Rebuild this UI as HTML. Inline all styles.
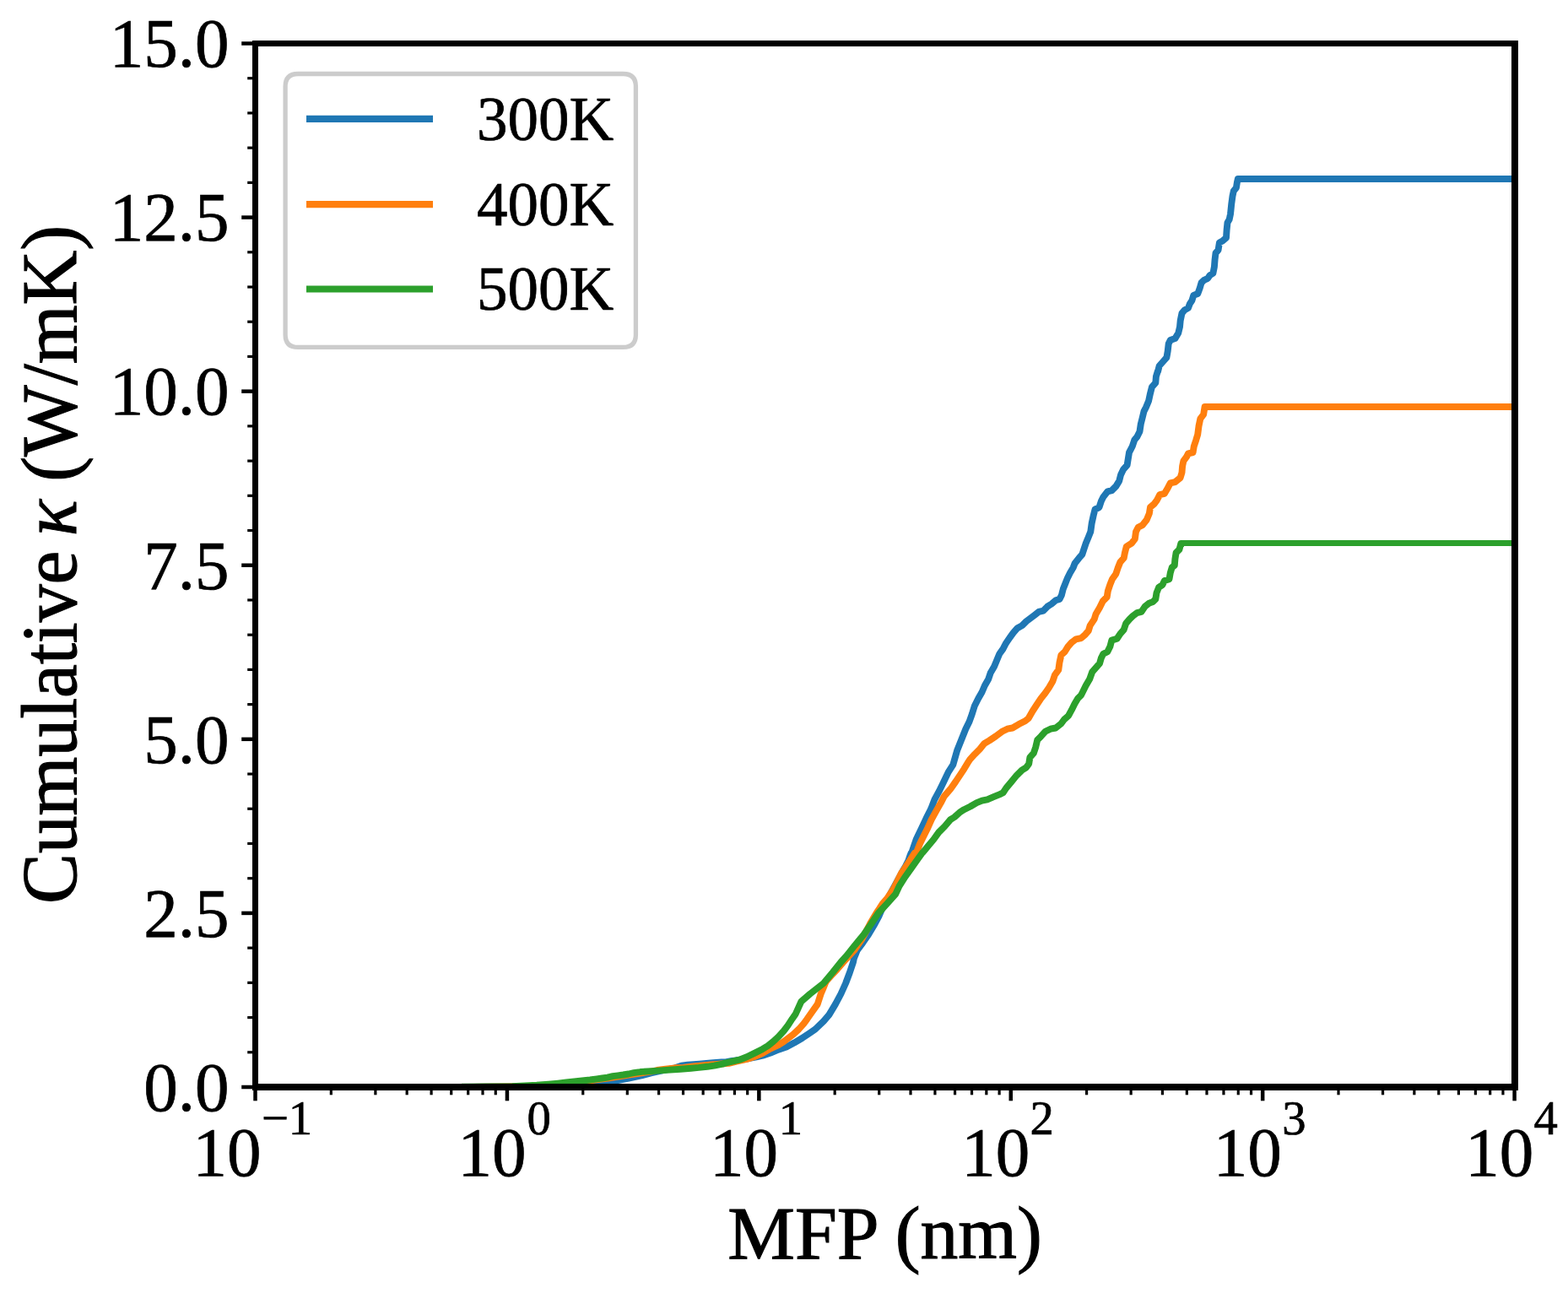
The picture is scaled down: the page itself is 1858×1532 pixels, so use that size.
<!DOCTYPE html>
<html lang="en"><head><meta charset="utf-8"><title>Cumulative thermal conductivity vs MFP</title>
<style>html,body{margin:0;padding:0;background:#fff;overflow:hidden}svg{display:block}</style></head>
<body>
<svg width="1858" height="1532" viewBox="0 0 1858 1532" font-family="'Liberation Serif', serif" fill="#000">
<rect width="1858" height="1532" fill="#fff"/>
<clipPath id="c"><rect x="302.5" y="51.5" width="1492.1" height="1236.5"/></clipPath>
<g clip-path="url(#c)" fill="none" stroke-width="7.9" stroke-linejoin="round" stroke-linecap="butt">
<path d="M560.0,1288.0 L700.0,1287.0 L732.0,1280.0 L745.0,1277.5 L760.0,1274.5 L771.2,1271.4 L782.5,1268.9 L800.0,1265.3 L807.4,1262.6 L814.9,1261.6 L828.7,1260.6 L842.4,1259.4 L854.9,1258.4 L860.0,1258.4 L866.2,1257.2 L872.5,1256.3 L876.2,1256.0 L895.0,1252.6 L903.7,1250.7 L913.1,1247.6 L922.4,1243.7 L931.8,1240.6 L941.1,1235.6 L950.5,1230.0 L959.9,1223.7 L966.0,1219.5 L976.0,1209.8 L982.4,1202.4 L989.9,1189.9 L996.5,1177.5 L1002.1,1165.0 L1006.8,1152.5 L1011.0,1140.0 L1011.9,1135.5 L1015.6,1126.2 L1022.5,1116.8 L1029.0,1107.5 L1035.4,1096.8 L1041.4,1085.6 L1044.4,1078.7 L1070.2,1031.2 L1073.4,1025.6 L1076.5,1019.4 L1078.4,1013.7 L1079.5,1011.0 L1080.4,1010.0 L1085.6,994.8 L1091.6,982.3 L1097.4,969.8 L1103.1,958.6 L1107.4,947.4 L1112.8,937.4 L1118.4,926.1 L1123.7,914.9 L1129.3,906.2 L1131.8,897.4 L1134.3,888.7 L1139.3,876.2 L1144.3,863.7 L1148.6,855.0 L1151.8,846.2 L1154.9,836.2 L1159.3,827.5 L1163.6,820.0 L1166.9,812.3 L1171.2,804.8 L1173.7,797.3 L1178.1,789.8 L1181.2,782.3 L1184.3,774.8 L1188.7,768.6 L1191.8,762.4 L1196.2,756.1 L1200.6,749.9 L1205.6,744.2 L1211.2,741.1 L1216.2,736.1 L1221.2,732.4 L1226.2,728.6 L1230.9,724.9 L1236.4,723.6 L1241.1,718.7 L1246.1,715.5 L1251.1,711.2 L1255.5,709.9 L1258.0,704.9 L1259.9,697.4 L1262.4,691.2 L1264.9,684.9 L1268.0,678.7 L1271.7,672.5 L1273.6,667.5 L1278.6,661.2 L1282.4,656.8 L1284.2,651.2 L1286.7,643.7 L1289.8,636.2 L1292.3,630.0 L1293.7,619.8 L1295.6,611.1 L1297.5,603.6 L1302.5,601.1 L1305.0,593.6 L1307.5,588.6 L1312.5,582.3 L1317.4,581.1 L1322.4,576.1 L1326.2,569.9 L1328.1,562.4 L1331.2,556.1 L1335.6,551.1 L1336.8,543.6 L1338.0,536.1 L1341.8,528.7 L1344.3,521.2 L1347.4,517.4 L1350.5,511.2 L1351.8,502.4 L1353.7,494.9 L1355.5,487.4 L1358.0,482.5 L1361.1,475.0 L1363.0,466.2 L1364.9,458.7 L1369.3,453.7 L1369.9,446.2 L1371.8,440.0 L1372.1,440.0 L1373.7,433.5 L1378.1,428.5 L1382.4,423.6 L1383.7,416.1 L1384.7,407.3 L1386.8,403.0 L1392.4,401.1 L1396.2,394.8 L1398.0,387.3 L1398.7,379.9 L1400.5,371.1 L1403.7,367.4 L1408.0,364.9 L1409.9,359.9 L1412.4,356.1 L1414.3,349.9 L1419.3,348.0 L1421.8,341.1 L1423.6,334.9 L1426.8,331.8 L1431.1,329.9 L1433.6,326.2 L1437.4,323.7 L1438.9,316.2 L1439.6,307.4 L1440.5,299.9 L1443.6,296.2 L1444.9,287.5 L1448.6,285.6 L1453.0,281.8 L1453.6,272.5 L1454.5,263.7 L1456.7,260.0 L1458.0,253.7 L1458.4,250.0 L1459.3,241.2 L1460.5,232.4 L1461.8,226.2 L1464.9,222.4 L1465.9,216.2 L1466.8,212.0 L1800.0,212.0" stroke="#1f77b4"/>
<path d="M560.0,1288.0 L640.0,1287.0 L697.0,1280.5 L720.0,1277.5 L745.0,1273.6 L760.0,1271.4 L772.5,1269.3 L778.7,1268.0 L788.7,1266.6 L800.0,1265.3 L809.9,1264.9 L819.9,1263.8 L829.9,1262.8 L839.9,1261.8 L849.9,1260.9 L857.4,1260.3 L863.6,1259.8 L872.5,1257.6 L885.0,1254.9 L895.0,1251.7 L903.7,1247.8 L913.1,1242.4 L922.4,1238.2 L928.7,1234.2 L939.9,1225.7 L946.5,1219.5 L952.4,1212.8 L956.1,1207.8 L960.3,1201.8 L968.7,1189.9 L972.7,1177.5 L975.4,1171.2 L977.9,1165.0 L979.5,1162.0 L985.7,1155.2 L992.0,1148.5 L1000.5,1138.7 L1012.0,1126.2 L1020.7,1113.7 L1024.9,1106.2 L1031.4,1093.7 L1038.7,1081.5 L1042.3,1076.2 L1046.3,1070.0 L1051.3,1064.3 L1059.5,1051.8 L1065.1,1040.6 L1068.2,1034.3 L1071.3,1030.0 L1078.2,1019.4 L1084.0,1010.5 L1086.0,1010.0 L1090.0,999.8 L1093.7,992.3 L1098.7,982.3 L1103.7,971.1 L1109.9,959.8 L1114.9,951.1 L1118.7,943.6 L1126.2,934.9 L1132.4,926.1 L1137.4,918.6 L1142.4,911.1 L1146.8,903.7 L1149.3,899.9 L1154.9,893.7 L1161.1,887.4 L1166.1,881.2 L1172.4,877.4 L1179.9,872.4 L1187.3,866.8 L1193.6,863.7 L1199.8,862.5 L1207.3,858.1 L1214.8,854.3 L1218.6,851.2 L1223.6,842.5 L1228.5,835.0 L1233.5,827.5 L1238.5,821.2 L1243.0,814.8 L1247.4,807.3 L1249.9,799.8 L1254.3,793.6 L1255.5,784.8 L1257.4,776.1 L1261.7,772.3 L1265.5,766.1 L1269.9,761.1 L1274.9,757.4 L1281.1,756.1 L1286.1,751.7 L1289.8,747.4 L1291.7,741.1 L1296.7,733.6 L1298.6,727.4 L1303.0,719.9 L1306.7,712.4 L1311.7,707.4 L1312.9,699.9 L1315.4,692.4 L1317.9,686.2 L1322.3,679.9 L1324.8,672.5 L1327.3,666.2 L1331.7,661.2 L1332.9,655.0 L1334.8,647.5 L1341.0,643.7 L1344.8,638.7 L1346.0,630.0 L1348.7,624.8 L1353.7,622.3 L1358.7,616.1 L1361.8,608.6 L1363.0,601.1 L1367.4,597.3 L1371.1,592.3 L1374.3,586.1 L1379.9,584.8 L1383.6,578.6 L1386.7,572.4 L1392.4,571.1 L1398.6,566.1 L1400.5,559.9 L1401.1,552.4 L1402.4,546.1 L1406.1,541.1 L1408.0,537.4 L1413.6,536.1 L1414.8,528.7 L1417.3,521.2 L1419.2,514.9 L1420.5,504.9 L1422.3,496.2 L1426.1,491.2 L1427.6,482.0 L1800.0,482.0" stroke="#ff7f0e"/>
<path d="M547.0,1287.6 L607.0,1287.3 L636.1,1285.8 L649.9,1284.6 L661.1,1283.6 L671.1,1282.5 L680.5,1281.5 L689.8,1280.5 L699.2,1279.5 L707.3,1278.4 L713.6,1277.5 L719.8,1276.6 L726.0,1275.2 L732.3,1274.3 L738.5,1273.5 L744.8,1272.5 L751.0,1271.2 L758.5,1270.2 L760.0,1269.9 L772.5,1269.1 L790.0,1267.9 L806.2,1266.7 L818.7,1265.7 L828.0,1264.9 L838.0,1263.8 L846.2,1262.6 L856.1,1260.6 L860.0,1259.4 L876.2,1255.7 L885.0,1252.3 L895.0,1247.4 L903.7,1242.9 L909.9,1239.2 L916.2,1234.2 L922.4,1228.4 L928.7,1221.5 L933.7,1214.9 L938.7,1207.2 L942.7,1201.5 L949.3,1186.8 L960.0,1177.5 L975.9,1165.0 L986.8,1152.0 L996.4,1140.0 L1003.2,1132.4 L1013.1,1119.9 L1023.4,1107.5 L1032.1,1095.0 L1040.7,1082.0 L1052.3,1069.3 L1061.2,1059.3 L1065.6,1049.9 L1072.7,1038.7 L1080.2,1028.1 L1086.9,1018.7 L1093.2,1010.0 L1093.5,1010.0 L1099.9,1002.3 L1106.2,994.8 L1112.4,986.1 L1119.3,979.2 L1126.2,971.1 L1131.2,968.0 L1137.4,962.3 L1142.4,959.2 L1149.9,955.5 L1157.4,951.1 L1163.6,948.6 L1169.9,947.4 L1177.4,944.2 L1184.8,941.1 L1188.6,939.2 L1192.3,933.6 L1198.6,926.1 L1204.8,918.6 L1211.1,912.4 L1216.1,909.3 L1219.2,904.9 L1220.4,897.4 L1224.8,892.4 L1227.3,884.9 L1229.2,876.8 L1233.5,872.4 L1238.5,866.8 L1244.8,863.7 L1251.0,862.5 L1257.3,857.5 L1261.0,852.5 L1266.0,848.1 L1269.8,841.2 L1273.5,833.7 L1277.2,827.5 L1281.0,823.7 L1282.4,821.0 L1286.7,812.3 L1291.1,804.8 L1294.2,796.1 L1298.6,791.1 L1303.0,786.1 L1304.8,779.8 L1307.3,774.8 L1312.3,772.3 L1315.4,766.1 L1317.3,758.6 L1323.6,756.7 L1327.3,751.1 L1331.7,746.1 L1334.2,738.6 L1338.5,733.6 L1342.3,729.9 L1347.3,726.1 L1352.4,724.9 L1356.8,718.6 L1361.2,714.9 L1366.2,713.0 L1369.3,709.9 L1370.5,702.4 L1373.0,696.1 L1377.4,693.0 L1379.9,688.0 L1385.5,686.2 L1386.8,678.7 L1388.7,672.4 L1391.8,669.9 L1392.4,662.4 L1393.6,654.9 L1397.4,651.2 L1399.3,644.0 L1403.0,644.0" stroke="#2ca02c"/>
<rect x="1400" y="640" width="400" height="7" fill="#2ca02c"/>
</g>
<g stroke="#000" stroke-width="4.5" fill="none">
<line x1="302.50" y1="1288.0" x2="302.50" y2="1304.30"/>
<line x1="600.92" y1="1288.0" x2="600.92" y2="1304.30"/>
<line x1="899.34" y1="1288.0" x2="899.34" y2="1304.30"/>
<line x1="1197.76" y1="1288.0" x2="1197.76" y2="1304.30"/>
<line x1="1496.18" y1="1288.0" x2="1496.18" y2="1304.30"/>
<line x1="1794.60" y1="1288.0" x2="1794.60" y2="1304.30"/>
<line x1="302.5" y1="1288.00" x2="286.20" y2="1288.00"/>
<line x1="302.5" y1="1081.92" x2="286.20" y2="1081.92"/>
<line x1="302.5" y1="875.83" x2="286.20" y2="875.83"/>
<line x1="302.5" y1="669.75" x2="286.20" y2="669.75"/>
<line x1="302.5" y1="463.67" x2="286.20" y2="463.67"/>
<line x1="302.5" y1="257.58" x2="286.20" y2="257.58"/>
<line x1="302.5" y1="51.50" x2="286.20" y2="51.50"/>
</g>
<g stroke="#000" stroke-width="3.2" fill="none">
<line x1="392.33" y1="1288.0" x2="392.33" y2="1297.30"/>
<line x1="444.88" y1="1288.0" x2="444.88" y2="1297.30"/>
<line x1="482.17" y1="1288.0" x2="482.17" y2="1297.30"/>
<line x1="511.09" y1="1288.0" x2="511.09" y2="1297.30"/>
<line x1="534.72" y1="1288.0" x2="534.72" y2="1297.30"/>
<line x1="554.69" y1="1288.0" x2="554.69" y2="1297.30"/>
<line x1="572.00" y1="1288.0" x2="572.00" y2="1297.30"/>
<line x1="587.27" y1="1288.0" x2="587.27" y2="1297.30"/>
<line x1="690.75" y1="1288.0" x2="690.75" y2="1297.30"/>
<line x1="743.30" y1="1288.0" x2="743.30" y2="1297.30"/>
<line x1="780.59" y1="1288.0" x2="780.59" y2="1297.30"/>
<line x1="809.51" y1="1288.0" x2="809.51" y2="1297.30"/>
<line x1="833.14" y1="1288.0" x2="833.14" y2="1297.30"/>
<line x1="853.11" y1="1288.0" x2="853.11" y2="1297.30"/>
<line x1="870.42" y1="1288.0" x2="870.42" y2="1297.30"/>
<line x1="885.69" y1="1288.0" x2="885.69" y2="1297.30"/>
<line x1="989.17" y1="1288.0" x2="989.17" y2="1297.30"/>
<line x1="1041.72" y1="1288.0" x2="1041.72" y2="1297.30"/>
<line x1="1079.01" y1="1288.0" x2="1079.01" y2="1297.30"/>
<line x1="1107.93" y1="1288.0" x2="1107.93" y2="1297.30"/>
<line x1="1131.56" y1="1288.0" x2="1131.56" y2="1297.30"/>
<line x1="1151.53" y1="1288.0" x2="1151.53" y2="1297.30"/>
<line x1="1168.84" y1="1288.0" x2="1168.84" y2="1297.30"/>
<line x1="1184.11" y1="1288.0" x2="1184.11" y2="1297.30"/>
<line x1="1287.59" y1="1288.0" x2="1287.59" y2="1297.30"/>
<line x1="1340.14" y1="1288.0" x2="1340.14" y2="1297.30"/>
<line x1="1377.43" y1="1288.0" x2="1377.43" y2="1297.30"/>
<line x1="1406.35" y1="1288.0" x2="1406.35" y2="1297.30"/>
<line x1="1429.98" y1="1288.0" x2="1429.98" y2="1297.30"/>
<line x1="1449.95" y1="1288.0" x2="1449.95" y2="1297.30"/>
<line x1="1467.26" y1="1288.0" x2="1467.26" y2="1297.30"/>
<line x1="1482.53" y1="1288.0" x2="1482.53" y2="1297.30"/>
<line x1="1586.01" y1="1288.0" x2="1586.01" y2="1297.30"/>
<line x1="1638.56" y1="1288.0" x2="1638.56" y2="1297.30"/>
<line x1="1675.85" y1="1288.0" x2="1675.85" y2="1297.30"/>
<line x1="1704.77" y1="1288.0" x2="1704.77" y2="1297.30"/>
<line x1="1728.40" y1="1288.0" x2="1728.40" y2="1297.30"/>
<line x1="1748.37" y1="1288.0" x2="1748.37" y2="1297.30"/>
<line x1="1765.68" y1="1288.0" x2="1765.68" y2="1297.30"/>
<line x1="1780.95" y1="1288.0" x2="1780.95" y2="1297.30"/>
<line x1="302.5" y1="1246.78" x2="293.20" y2="1246.78"/>
<line x1="302.5" y1="1205.57" x2="293.20" y2="1205.57"/>
<line x1="302.5" y1="1164.35" x2="293.20" y2="1164.35"/>
<line x1="302.5" y1="1123.13" x2="293.20" y2="1123.13"/>
<line x1="302.5" y1="1040.70" x2="293.20" y2="1040.70"/>
<line x1="302.5" y1="999.48" x2="293.20" y2="999.48"/>
<line x1="302.5" y1="958.27" x2="293.20" y2="958.27"/>
<line x1="302.5" y1="917.05" x2="293.20" y2="917.05"/>
<line x1="302.5" y1="834.62" x2="293.20" y2="834.62"/>
<line x1="302.5" y1="793.40" x2="293.20" y2="793.40"/>
<line x1="302.5" y1="752.18" x2="293.20" y2="752.18"/>
<line x1="302.5" y1="710.97" x2="293.20" y2="710.97"/>
<line x1="302.5" y1="628.53" x2="293.20" y2="628.53"/>
<line x1="302.5" y1="587.32" x2="293.20" y2="587.32"/>
<line x1="302.5" y1="546.10" x2="293.20" y2="546.10"/>
<line x1="302.5" y1="504.88" x2="293.20" y2="504.88"/>
<line x1="302.5" y1="422.45" x2="293.20" y2="422.45"/>
<line x1="302.5" y1="381.23" x2="293.20" y2="381.23"/>
<line x1="302.5" y1="340.02" x2="293.20" y2="340.02"/>
<line x1="302.5" y1="298.80" x2="293.20" y2="298.80"/>
<line x1="302.5" y1="216.37" x2="293.20" y2="216.37"/>
<line x1="302.5" y1="175.15" x2="293.20" y2="175.15"/>
<line x1="302.5" y1="133.93" x2="293.20" y2="133.93"/>
<line x1="302.5" y1="92.72" x2="293.20" y2="92.72"/>
</g>
<path d="M299,48H1799V1292H299ZM306,55V1284H1791V55Z" fill="#000" fill-rule="evenodd"/>
<g font-size="81.0" text-anchor="end" stroke="#000" stroke-width="0.7">
<text transform="translate(271.4,1315.80) scale(1,1.012)">0.0</text>
<text transform="translate(271.4,1109.72) scale(1,1.012)">2.5</text>
<text transform="translate(271.4,903.63) scale(1,1.012)">5.0</text>
<text transform="translate(271.4,697.55) scale(1,1.012)">7.5</text>
<text transform="translate(271.4,491.47) scale(1,1.012)">10.0</text>
<text transform="translate(271.4,285.38) scale(1,1.012)">12.5</text>
<text transform="translate(271.4,79.30) scale(1,1.012)">15.0</text>
</g>
<g stroke="#000" stroke-width="0.7">
<text transform="translate(228.60,1392.5) scale(1,1.012)" font-size="81.0">10</text>
<text transform="translate(309.90,1344.0) scale(1,1.012)" font-size="56.70">−1</text>
<text transform="translate(542.52,1392.5) scale(1,1.012)" font-size="81.0">10</text>
<text transform="translate(624.39,1344.0) scale(1,1.012)" font-size="56.70">0</text>
<text transform="translate(840.94,1392.5) scale(1,1.012)" font-size="81.0">10</text>
<text transform="translate(922.63,1344.0) scale(1,1.012)" font-size="56.70">1</text>
<text transform="translate(1139.36,1392.5) scale(1,1.012)" font-size="81.0">10</text>
<text transform="translate(1220.40,1344.0) scale(1,1.012)" font-size="56.70">2</text>
<text transform="translate(1437.78,1392.5) scale(1,1.012)" font-size="81.0">10</text>
<text transform="translate(1519.36,1344.0) scale(1,1.012)" font-size="56.70">3</text>
<text transform="translate(1736.20,1392.5) scale(1,1.012)" font-size="81.0">10</text>
<text transform="translate(1817.46,1344.0) scale(1,1.012)" font-size="56.70">4</text>
</g>
<text x="1048.6" y="1490.8" font-size="89.6" text-anchor="middle" stroke="#000" stroke-width="1.1">MFP (nm)</text>
<g font-size="89.7" stroke="#000" stroke-width="1.1">
<text transform="translate(90.4,1071.1) rotate(-90) scale(1,1.03)">Cumulative</text>
<text transform="translate(90.4,635.2) rotate(-90) scale(1,1.03)" font-style="italic">κ</text>
<text transform="translate(90.4,570.8) rotate(-90) scale(1,1.03)">(W/mK)</text>
</g>
<path d="M353.1,87.5L738.4,87.5Q753.4,87.5 753.4,102.5L753.4,396.4Q753.4,411.4 738.4,411.4L353.1,411.4Q338.1,411.4 338.1,396.4L338.1,102.5Q338.1,87.5 353.1,87.5Z" fill="#fff" fill-opacity="0.8" stroke="#cccccc" stroke-width="5.3"/>
<line x1="363" y1="140.9" x2="513" y2="140.9" stroke="#1f77b4" stroke-width="8.1"/>
<text transform="translate(565,165.9)" font-size="73.0" stroke="#000" stroke-width="0.7">300K</text>
<line x1="363" y1="242.1" x2="513" y2="242.1" stroke="#ff7f0e" stroke-width="8.1"/>
<text transform="translate(565,267.0)" font-size="73.0" stroke="#000" stroke-width="0.7">400K</text>
<line x1="363" y1="342.5" x2="513" y2="342.5" stroke="#2ca02c" stroke-width="8.1"/>
<text transform="translate(565,367.4)" font-size="73.0" stroke="#000" stroke-width="0.7">500K</text>
</svg>
</body></html>
